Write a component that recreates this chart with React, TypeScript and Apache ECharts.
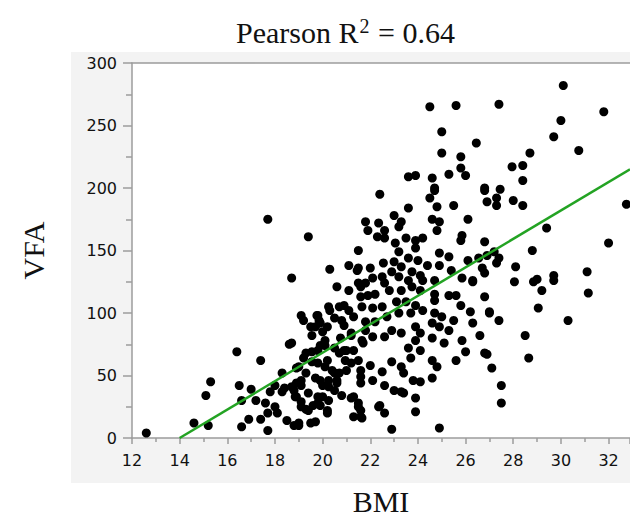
import React, { useEffect, useRef } from "react";
import * as echarts from "echarts";

const titleText = "Pearson R{sup|2} = 0.64";
const xAxisName = "BMI";
const yAxisName = "VFA";
const xRange = [12, 32.9];
const yRange = [0, 300];
const xInterval = 2;
const yInterval = 50;
const trendLine: [number, number][] = [[14, 0], [32.9, 215]];

const leftPoints: [number, number][] = [
  [12.6, 4], [17.7, 175], [16.4, 69], [17.4, 62], [15.3, 45], [15.1, 34], [14.6, 12], [15.2, 10],
  [16.5, 42], [16.6, 30], [17.0, 39], [17.2, 30], [16.9, 15], [16.6, 9], [17.4, 15], [17.7, 6],
  [17.8, 37], [17.6, 28], [17.7, 20], [18.0, 25], [18.1, 20], [18.3, 52], [18.0, 42], [18.3, 37],
  [18.5, 14], [18.6, 75], [18.7, 128], [19.4, 161], [19.1, 98], [19.2, 94], [18.7, 76], [18.4, 40],
  [18.8, 10], [19.0, 12], [19.5, 12], [19.7, 13], [19.3, 23], [19.1, 29], [18.85, 33], [18.8, 38],
  [18.9, 44], [19.1, 46], [19.3, 52], [18.9, 56], [19.2, 64], [19.55, 69], [19.8, 60], [20.2, 62],
  [19.7, 48], [19.9, 46], [20.0, 42], [20.25, 46], [19.8, 33], [19.6, 26], [19.9, 26], [20.2, 22],
  [20.25, 30], [20.5, 38], [20.6, 46], [20.7, 52], [20.4, 54], [19.9, 74], [19.55, 82], [19.7, 89],
  [19.76, 98], [19.9, 92], [20.0, 85], [20.1, 74], [20.3, 102], [20.7, 105], [20.5, 96], [20.9, 90],
  [20.9, 106], [21.1, 102], [20.6, 121], [21.1, 118], [20.3, 135], [21.1, 138], [21.5, 136], [21.5, 150],
  [21.8, 173], [21.9, 166], [21.5, 124], [21.6, 113], [21.3, 97], [21.2, 82], [21.0, 70], [21.2, 60],
  [21.3, 70], [21.5, 62], [21.6, 54], [21.6, 44], [21.3, 33], [21.5, 28], [21.6, 22], [21.3, 17],
  [21.6, 17], [20.8, 34], [20.7, 68], [20.5, 72], [21.8, 86], [21.7, 76]
];

const midPoints: [number, number][] = [
  [22.4, 195], [23.0, 178], [22.35, 172], [22.3, 161], [22.6, 166], [22.6, 160], [23.05, 156], [21.45, 134],
  [22.0, 136], [22.55, 140], [23.0, 141], [22.1, 128], [21.8, 124], [22.5, 129], [22.6, 124], [22.9, 133],
  [21.6, 121], [21.9, 114], [22.2, 115], [22.8, 118], [23.1, 109], [21.65, 105], [22.1, 104], [22.5, 105],
  [20.25, 105], [19.8, 98], [19.5, 89], [19.85, 94], [20.2, 89], [20.8, 94], [21.8, 93], [22.2, 93],
  [22.7, 97], [23.2, 100], [20.1, 78], [20.75, 80], [21.2, 84], [21.65, 78], [22.1, 81], [22.6, 81],
  [22.9, 86], [19.3, 68], [19.8, 70], [20.9, 70], [20.95, 62], [22.0, 58], [22.5, 53], [22.9, 61],
  [19.0, 57], [19.55, 61], [20.1, 57], [20.5, 52], [21.0, 54], [21.6, 49], [22.1, 46], [22.6, 42],
  [23.0, 38], [18.7, 41], [19.1, 42], [20.25, 41], [20.6, 44], [18.9, 33], [19.4, 36], [20.0, 33],
  [19.1, 25], [19.8, 28], [20.2, 20], [19.4, 22], [21.2, 32], [21.5, 25], [21.65, 16], [22.35, 25],
  [22.6, 20], [22.9, 7], [19.0, 10], [22.4, 26], [23.4, 36]
];

const rightPoints: [number, number][] = [
  [24.7, 198], [24.5, 192], [26.8, 198], [26.9, 189], [23.6, 184], [24.8, 185], [25.5, 186], [24.6, 175],
  [24.9, 173], [23.3, 173], [24.8, 166], [26.1, 175], [25.85, 162], [25.8, 158], [26.8, 157], [23.2, 169],
  [23.5, 160], [23.9, 158], [24.2, 160], [23.9, 152], [23.2, 149], [23.6, 144], [24.0, 142], [24.9, 148],
  [25.3, 145], [24.9, 138], [24.4, 138], [26.1, 142], [26.55, 144], [26.7, 136], [26.9, 146], [27.2, 149],
  [23.3, 137], [23.75, 133], [24.1, 130], [23.2, 129], [23.6, 126], [24.2, 126], [24.7, 126], [25.4, 134],
  [25.85, 128], [26.3, 126], [23.3, 118], [23.75, 121], [24.1, 118], [24.7, 115], [25.3, 114], [25.6, 114],
  [26.8, 113], [23.5, 109], [23.9, 106], [24.7, 110], [25.8, 106], [23.7, 100], [24.2, 102], [24.7, 100],
  [25.0, 97], [26.2, 101], [27.0, 101], [27.4, 94], [23.3, 84], [23.9, 89], [24.1, 84], [24.6, 92],
  [24.9, 89], [25.3, 86], [25.5, 94], [26.3, 92], [26.6, 82], [23.9, 78], [23.6, 72], [24.1, 70],
  [24.6, 80], [25.1, 76], [25.85, 78], [26.0, 69], [23.7, 64], [24.6, 62], [24.8, 57], [25.6, 62],
  [26.8, 68], [27.1, 56], [23.3, 57], [23.4, 52], [23.8, 46], [24.1, 45], [24.6, 48], [27.5, 42],
  [23.3, 37], [23.9, 32], [23.9, 21], [27.5, 28], [24.9, 8]
];

const outerPoints: [number, number][] = [
  [24.5, 265], [25.6, 266], [27.4, 267], [25.0, 245], [26.45, 236], [25.0, 228], [25.8, 225], [25.8, 216],
  [26.0, 210], [23.6, 209], [23.9, 210], [24.6, 208], [25.3, 211], [24.7, 200], [26.8, 200], [27.45, 199],
  [27.3, 192], [27.3, 186], [28.0, 190], [28.4, 186], [27.95, 217], [28.4, 218], [28.4, 206], [28.7, 228],
  [29.7, 241], [30.0, 254], [30.1, 282], [31.8, 261], [30.75, 230], [32.75, 187], [29.4, 168], [28.8, 150],
  [32.0, 156], [28.1, 137], [28.85, 125], [29.0, 127], [29.7, 130], [29.7, 126], [29.2, 118], [31.1, 133],
  [31.15, 116], [28.05, 125], [29.05, 104], [30.3, 94], [28.5, 82], [28.65, 64], [26.8, 132], [26.3, 125],
  [27.0, 100], [26.9, 67], [27.4, 144], [27.3, 140]
];

const allPoints = [...leftPoints, ...midPoints, ...rightPoints, ...outerPoints];

const axisGray = "#9c9c9c";
const labelFont = "DejaVu Sans";
const serif = "Liberation Serif";

export default function App() {
  const ref = useRef<HTMLDivElement>(null);
  useEffect(() => {
    document.body.style.margin = "0";
    if (!ref.current) return;
    const chart = echarts.init(ref.current, null, { renderer: "svg" });
    const gridLeft = 132, gridTop = 63, gridRight = 0, gridBottom = 88;
    chart.setOption({
      animation: false,
      backgroundColor: "#ffffff",
      title: {
        text: titleText,
        left: 231,
        top: 11,
        textStyle: {
          fontFamily: serif,
          fontSize: 30,
          fontWeight: "normal",
          color: "#111",
          rich: {
            sup: { fontFamily: serif, fontSize: 20, color: "#111", verticalAlign: "top", padding: [0, 1, 12, 1] }
          }
        }
      },
      graphic: [
        { type: "rect", z: -10, shape: { x: 71, y: 52, width: 559, height: 431 }, style: { fill: "#f3f3f3" }, silent: true },
        { type: "rect", z: -9, shape: { x: gridLeft, y: gridTop, width: 630 - gridLeft, height: 526 - gridTop - gridBottom }, style: { fill: "#ffffff" }, silent: true }
      ],
      grid: { left: gridLeft, top: gridTop, right: gridRight, bottom: gridBottom },
      xAxis: [
        {
          type: "value",
          min: xRange[0],
          max: xRange[1],
          interval: xInterval,
          name: xAxisName,
          nameLocation: "middle",
          nameGap: 48,
          nameTextStyle: { fontFamily: serif, fontSize: 30, color: "#111" },
          axisLine: { show: true, lineStyle: { color: axisGray, width: 1.5 } },
          axisTick: { show: true, length: 6, lineStyle: { color: axisGray, width: 1.5 } },
          minorTick: { show: true, splitNumber: 2, length: 4, lineStyle: { color: axisGray, width: 1.5 } },
          splitLine: { show: false },
          axisLabel: { showMaxLabel: false, margin: 14, fontFamily: labelFont, fontSize: 16, color: "#111" }
        },
        {
          type: "value",
          position: "top",
          min: xRange[0],
          max: xRange[1],
          axisLine: { show: true, lineStyle: { color: axisGray, width: 1.5 } },
          axisTick: { show: false },
          axisLabel: { show: false },
          splitLine: { show: false }
        }
      ],
      yAxis: {
        type: "value",
        min: yRange[0],
        max: yRange[1],
        interval: yInterval,
        name: yAxisName,
        nameLocation: "middle",
        nameGap: 84,
        nameTextStyle: { fontFamily: serif, fontSize: 30, color: "#111" },
        axisLine: { show: true, lineStyle: { color: axisGray, width: 1.5 } },
        axisTick: { show: true, length: 9, lineStyle: { color: axisGray, width: 1.5 } },
        minorTick: { show: true, splitNumber: 2, length: 6, lineStyle: { color: axisGray, width: 1.5 } },
        splitLine: { show: false },
        axisLabel: { margin: 15, fontFamily: labelFont, fontSize: 16, color: "#111" }
      },
      series: [
        {
          type: "scatter",
          data: allPoints,
          symbol: "circle",
          symbolSize: 9,
          itemStyle: { color: "#000000", opacity: 1 },
          z: 2
        },
        {
          type: "line",
          data: trendLine,
          symbol: "none",
          lineStyle: { color: "#23a323", width: 2.5 },
          z: 3
        }
      ]
    });
    return () => chart.dispose();
  }, []);
  return <div ref={ref} style={{ width: 630, height: 526 }} />;
}
